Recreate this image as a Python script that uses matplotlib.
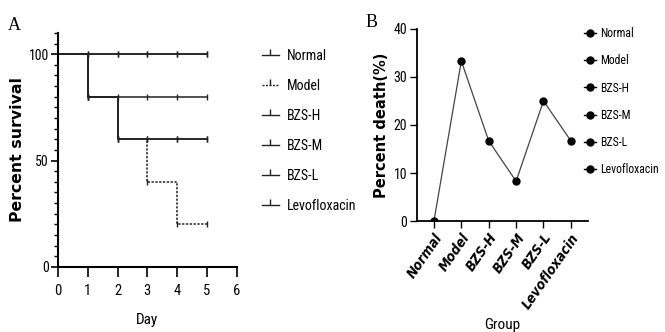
import matplotlib.pyplot as plt
import numpy as np
from matplotlib.lines import Line2D
from matplotlib.ticker import MultipleLocator

# survival data (percent) per day
days = [0, 1, 2, 3, 4, 5]
survival = {
    "Normal": [100, 100, 100, 100, 100, 100],
    "Model": [100, 80, 60, 40, 20, 20],
    "BZS-H": [100, 80, 80, 80, 80, 80],
    "BZS-M": [100, 80, 60, 60, 60, 60],
    "BZS-L": [100, 100, 100, 100, 100, 100],
    "Levofloxacin": [100, 80, 60, 60, 60, 60],
}
groups = ["Normal", "Model", "BZS-H", "BZS-M", "BZS-L", "Levofloxacin"]
death = [0, 33.3, 16.7, 8.3, 25.0, 16.7]

narrow = ["Roboto Condensed", "DejaVu Sans"]
plt.rcParams["font.family"] = narrow

fig = plt.figure(figsize=(6.65, 3.32), dpi=100)

# ---- panel A
axA = fig.add_axes([0.0872, 0.196, 0.269, 0.705])
for name in groups:
    y = survival[name]
    ls = (0, (1.5, 1)) if name == "Model" else "-"
    axA.step(days, y, where="post", color="#222222", lw=1.1, ls=ls)
    axA.plot(days[1:], y[1:], ls="none", marker="|", ms=5, mew=1.0, color="#222222")
axA.set_xlim(0, 6)
axA.set_ylim(0, 110)
axA.set_xticks(range(7))
axA.set_yticks([0, 50, 100])
axA.yaxis.set_minor_locator(MultipleLocator(5))
for s in ["top", "right"]:
    axA.spines[s].set_visible(False)
for s in ["left", "bottom"]:
    axA.spines[s].set_linewidth(1.5)
axA.tick_params(axis="x", width=1.2, length=7, labelsize=10.5, pad=5)
axA.tick_params(axis="y", width=1.2, length=5, labelsize=10, pad=1.5)
axA.tick_params(which="minor", width=1.0, length=3)
axA.set_xlabel("Day", fontsize=11, labelpad=11)
axA.set_ylabel("Percent survival", fontsize=11.3, fontweight="bold",
               family=["DejaVu Sans"], labelpad=3)
handlesA = [Line2D([0], [0], color="#222222", lw=1.0,
                   ls=(0, (1.5, 1)) if g == "Model" else "-",
                   marker=2, ms=4) for g in groups]
fig.legend(handlesA, groups, loc="upper left", bbox_to_anchor=(0.375, 0.89),
           frameon=False, fontsize=10, handlelength=1.2, labelspacing=1.15,
           handletextpad=0.6)
fig.text(0.012, 0.91, "A", fontsize=13, family=["Liberation Serif"])

# ---- panel B
axB = fig.add_axes([0.627, 0.334, 0.257, 0.579])
x = np.arange(len(groups))
axB.plot(x, death, color="#444444", lw=0.9, marker="o", ms=5,
         mfc="black", mec="black")
axB.set_xlim(-0.62, 5.62)
axB.set_ylim(0, 40)
axB.set_yticks([0, 10, 20, 30, 40])
axB.set_xticks(x)
axB.set_xticklabels(groups, rotation=55, ha="right", rotation_mode="anchor",
                    fontstyle="oblique", fontweight="bold", fontsize=8.5,
                    family=["DejaVu Sans"], stretch="condensed")
for s in ["top", "right"]:
    axB.spines[s].set_visible(False)
for s in ["left", "bottom"]:
    axB.spines[s].set_linewidth(1.3)
axB.tick_params(width=1.0, length=5, labelsize=10, pad=2)
axB.set_xlabel("Group", fontsize=11, labelpad=5)
axB.set_ylabel("Percent death(%)", fontsize=10.5, fontweight="bold",
               family=["DejaVu Sans"], labelpad=3)
handlesB = [Line2D([0], [0], color="black", lw=1.0, marker="o", ms=5)
            for g in groups]
fig.legend(handlesB, groups, loc="upper left", bbox_to_anchor=(0.862, 0.95),
           frameon=False, fontsize=8.5, handlelength=1.0, labelspacing=1.2,
           handletextpad=0.4)
fig.text(0.549, 0.919, "B", fontsize=13, family=["Liberation Serif"])

fig.savefig("out.png", dpi=100)
